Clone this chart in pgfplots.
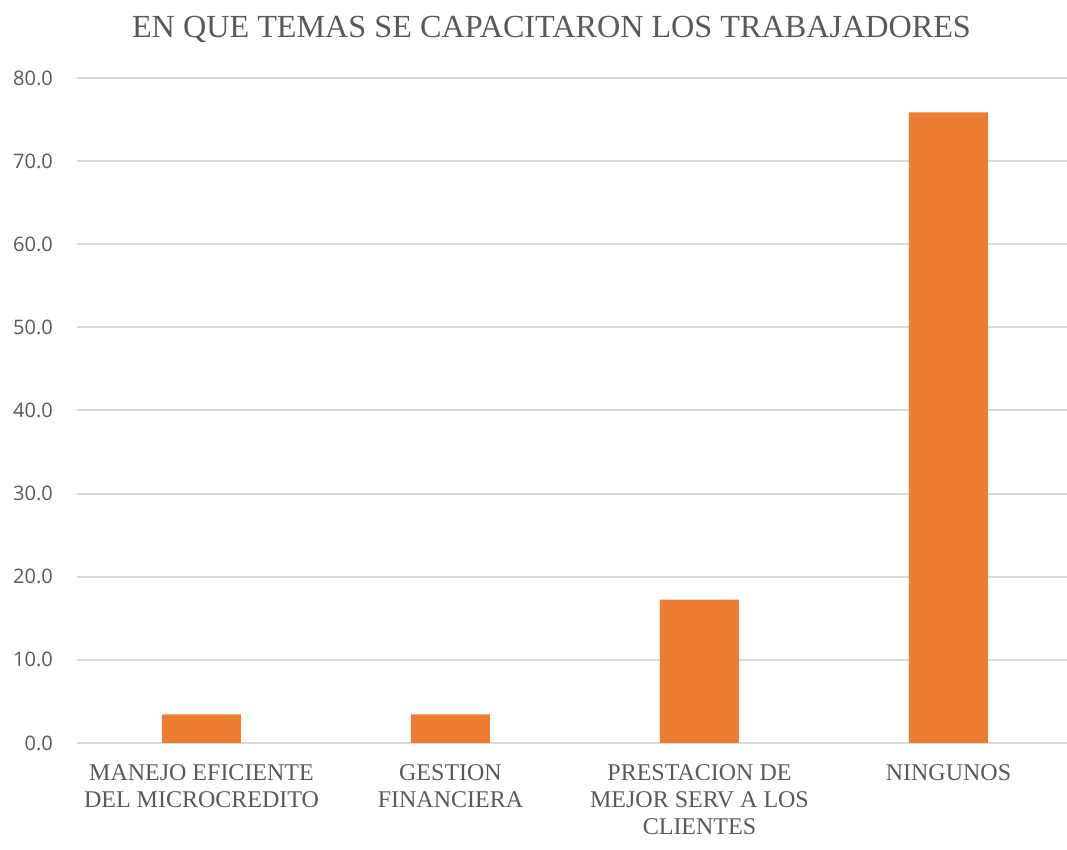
\documentclass[border=0pt]{standalone}
\usepackage{pgfplots}
\pgfplotsset{compat=1.18}
\usepackage{fontspec}
\setmainfont{Liberation Serif}
\newfontfamily\tickfont{Open Sans}
\definecolor{barorange}{HTML}{ED7D31}
\definecolor{gridgray}{HTML}{D9D9D9}
\definecolor{textgray}{HTML}{595959}
\begin{document}
\begin{tikzpicture}
\useasboundingbox (0,0) rectangle (1067pt,850pt);
\begin{axis}[
  at={(77pt,107pt)}, anchor=south west,
  scale only axis, width=990pt, height=665pt,
  ybar, bar width=79pt,
  xmin=-0.5, xmax=3.476,
  ymin=0, ymax=80,
  xtick=data,
  xticklabels={{MANEJO EFICIENTE\\DEL MICROCREDITO},{GESTION\\FINANCIERA},{PRESTACION DE\\MEJOR SERV A LOS\\CLIENTES},{NINGUNOS}},
  ytick={0,10,...,80},
  ymajorgrids,
  major grid style={draw=gridgray, line width=2pt},
  axis line style={draw=none},
  tick style={draw=none},
  /pgf/number format/assume math mode=true,
  yticklabel={\pgfmathprintnumber[fixed,fixed zerofill,precision=1]{\tick}},
  yticklabel style={font=\tickfont\fontsize{20}{23}\selectfont, text=textgray, inner sep=0pt, xshift=-24pt, anchor=east},
  xticklabel style={font=\fontsize{24}{27}\selectfont, text=textgray, inner sep=0pt, yshift=-17pt, anchor=north, align=center},
  clip=false,
]
\addplot[fill=barorange, draw=none] coordinates {(0,3.45) (1,3.45) (2,17.24) (3,75.86)};
\end{axis}
\node[anchor=base, inner sep=0pt, text=textgray, font=\fontsize{32.2}{38}\selectfont] at (551.5pt,812pt) {EN QUE TEMAS SE CAPACITARON LOS TRABAJADORES};
\end{tikzpicture}
\end{document}
